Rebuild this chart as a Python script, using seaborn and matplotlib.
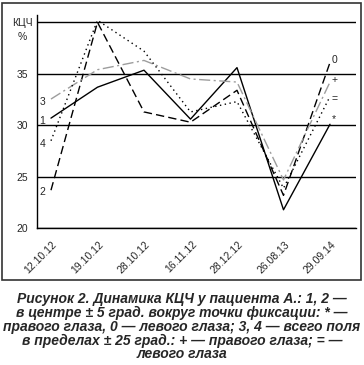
import numpy as np
import pandas as pd
import seaborn as sns
import matplotlib
matplotlib.use('Agg')
import matplotlib.pyplot as plt
import matplotlib.transforms as mtrans
from matplotlib.patches import Rectangle

sns.set_style('white')
plt.rcParams['font.family'] = ['Liberation Sans', 'DejaVu Sans']

# data
dates = ['12.10.12', '19.10.12', '28.10.12', '16.11.12', '28.12.12', '26.08.13', '29.09.14']
center_od = [30.7, 33.7, 35.35, 30.6, 35.6, 21.8, 30.1]    # 1, "*"
center_os = [23.7, 40.0, 31.3, 30.3, 33.4, 23.2, 36.1]     # 2, "0"
field_od = [32.55, 35.4, 36.3, 34.5, 34.2, 24.7, 34.2]     # 3, "+"
field_os = [28.5, 40.2, 37.2, 31.3, 32.3, 23.9, 32.8]      # 4, "="
series_names = ['1', '2', '3', '4']
end_marks = ['*', '0', '+', '=']

df = pd.DataFrame({
    'x': list(range(len(dates))) * 4,
    'val': center_od + center_os + field_od + field_os,
    'series': np.repeat(series_names, len(dates)),
})

fig = plt.figure(figsize=(3.64, 3.65), dpi=100)
ax = fig.add_axes([0.1016, 0.3745, 0.8764, 0.5844])

palette = {'1': 'black', '2': 'black', '3': '#9d9d9d', '4': 'black'}
dashes = {'1': '', '2': (6, 3), '3': (8, 2.5, 1.5, 2.5), '4': (1, 2.5)}
sns.lineplot(data=df, x='x', y='val', hue='series', style='series',
             palette=palette, dashes=dashes, lw=1.0, legend=False,
             sort=False, ax=ax)

ax.set_xlim(-0.301, 6.559)
ax.set_ylim(20, 40.71)
ax.set_xlabel('')
ax.set_ylabel('')

ax.set_yticks([20, 25, 30, 35, 40])
ax.set_yticklabels(['20', '25', '30', '35', 'КЦЧ'], ha='center', fontsize=7.5)
ax.tick_params(axis='y', length=0, pad=10.8)
ax.text(-0.047, 38.6, '%', transform=mtrans.blended_transform_factory(ax.transAxes, ax.transData),
        ha='center', va='center', fontsize=7.5)

ax.set_xticks(range(len(dates)))
ax.set_xticklabels(dates, rotation=45, ha='right', va='center', rotation_mode='anchor', fontsize=7.5)
ax.tick_params(axis='x', length=0, pad=10.5)
shift = mtrans.ScaledTranslation(4.5 / 100, 0, fig.dpi_scale_trans)
for lab in ax.get_xticklabels():
    lab.set_transform(lab.get_transform() + shift)

ax.yaxis.grid(True, color='black', lw=1.0)
ax.xaxis.grid(False)
ax.set_axisbelow(True)
for s in ['top', 'right']:
    ax.spines[s].set_visible(False)
for s in ['left', 'bottom']:
    ax.spines[s].set_color('black')
    ax.spines[s].set_linewidth(1.0)

# series labels at the start and end
start_y = [30.4, 23.5, 32.3, 28.2]
for name, y in zip(series_names, start_y):
    ax.text(-0.18, y, name, ha='center', va='center', fontsize=7.5)
end_y = [30.6, 36.3, 34.4, 32.5]
for mark, y in zip(end_marks, end_y):
    ax.text(6.04, y, mark, ha='left', va='center', fontsize=7.5)

fig.patches.append(Rectangle((0.0063, 0.2329), 0.9855, 0.760, transform=fig.transFigure,
                             fill=False, ec='#333333', lw=1.2))

caption_lines = ['Рисунок 2. Динамика КЦЧ у пациента А.: 1, 2 —',
                 'в центре ± 5 град. вокруг точки фиксации: * —',
                 'правого глаза, 0 — левого глаза; 3, 4 — всего поля',
                 'в пределах ± 25 град.: + — правого глаза; = —',
                 'левого глаза']
for i, line in enumerate(caption_lines):
    fig.text(0.5, 1 - (303.5 + 13.7 * i) / 365, line, ha='center', va='baseline',
             fontsize=10, fontweight='bold', fontstyle='italic')

fig.savefig('out.png', dpi=100)
